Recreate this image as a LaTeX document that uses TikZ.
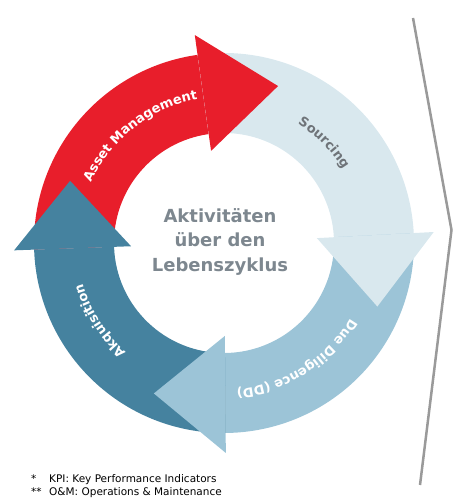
\documentclass[tikz,border=0pt]{standalone}
\usepackage{fontspec}
\setmainfont{DejaVu Sans}
\usetikzlibrary{decorations.text}
\definecolor{amred}{HTML}{E81E2B}
\definecolor{srclight}{HTML}{D9E8EE}
\definecolor{ddblue}{HTML}{9CC4D7}
\definecolor{akqblue}{HTML}{45829F}
\definecolor{titlegrey}{HTML}{7D878F}
\definecolor{srcgrey}{HTML}{6F7479}
\definecolor{linegrey}{HTML}{9A9A9A}
\newcommand\ringbody[3]{\fill[#1,shift={(C)}] (#2:190pt) arc[start angle=#2,end angle=#3,radius=190pt] -- (#3:110pt) arc[start angle=#3,end angle=#2,radius=110pt] -- cycle;}
\newcommand\ringhead[3]{\fill[#1,shift={(C)}] (#2:210pt) -- (#3:166pt) -- (#2:93pt) -- cycle;}
\newcommand\arcfnt{\bfseries\fontsize{13}{15}\selectfont}
\begin{document}
\begin{tikzpicture}[x=1pt,y=1pt,
  arclabel/.style={shift={(C)}, decorate, decoration={text along path, text align=center, text color=#1}},
  titletext/.style={anchor=base, inner sep=0pt, text=titlegrey, font=\bfseries\fontsize{18}{22}\selectfont},
  foot/.style={anchor=base west, inner sep=0pt, font=\fontsize{10.5}{12}\selectfont}]
\useasboundingbox (0,0) rectangle (453,498);
\coordinate (C) at (224,255);
% ring bodies
\ringbody{amred}{182}{98}
\ringbody{srclight}{98}{3}
\ringbody{ddblue}{3}{-89.5}
\ringbody{akqblue}{-89.5}{-178}
% arrow heads
\ringhead{amred}{98}{71}
\ringhead{srclight}{3}{-22.5}
\ringhead{ddblue}{-89.5}{-115}
\ringhead{akqblue}{182}{158}
% curved labels
\path[arclabel=white, decoration={text={|\arcfnt|Asset Management}}] (178:146pt) arc[start angle=178,end angle=78,radius=146pt];
\path[arclabel=srcgrey, decoration={text={|\arcfnt|Sourcing}}] (95:140pt) arc[start angle=95,end angle=-5,radius=140pt];
\path[arclabel=white, decoration={text={|\arcfnt|Due Diligence (DD)}}] (-8:147pt) arc[start angle=-8,end angle=-108,radius=147pt];
\path[arclabel=white, decoration={text={|\arcfnt|Akquisition}}] (262:147pt) arc[start angle=262,end angle=162,radius=147pt];
% centre title
\node[titletext] (t1) at (220,275) {Aktivitäten};
\node[titletext] (t2) at (220,251) {über den};
\node[titletext] (t3) at (220,226) {Lebenszyklus};
% footnotes
\node[foot] (f1) at (31,15) {\makebox[18pt][l]{*}KPI: Key Performance Indicators};
\node[foot] (f2) at (31,2.5) {\makebox[18pt][l]{**}O\&M: Operations \& Maintenance};
% divider
\coordinate (l1) at (413,480);
\coordinate (l2) at (451.5,268);
\coordinate (l3) at (420,13);
\draw[linegrey, line width=2.5pt] (l1) -- (l2) -- (l3);
\end{tikzpicture}
\end{document}
